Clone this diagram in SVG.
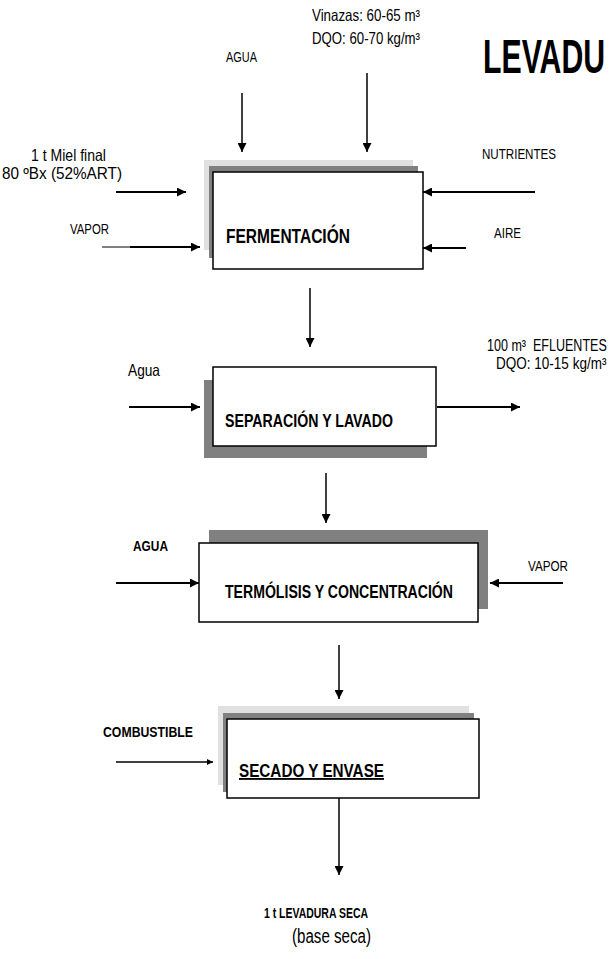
<svg xmlns="http://www.w3.org/2000/svg" width="613" height="959" viewBox="0 0 613 959">
<style>
text{font-family:"Liberation Sans Narrow","Liberation Sans",Arial,sans-serif;fill:#000}
.t{font-size:16.5px}
.s{font-size:14px}
.b{font-weight:bold}
.lbl{font-size:18.5px;font-weight:bold}
.box{fill:#fff;stroke:#000;stroke-width:1.5}
.lg{fill:#e0e0e0}
.dg{fill:#808080}
.ln{stroke:#000;stroke-width:1.5;fill:none}
.lnb{stroke:#000;stroke-width:2;fill:none}
</style>
<defs>
<marker id="ah" viewBox="0 0 10 10" refX="10" refY="5" markerWidth="10" markerHeight="9" markerUnits="userSpaceOnUse" orient="auto"><path d="M0,0 L10,5 L0,10 z" fill="#000"/></marker>
<marker id="ahs" viewBox="0 0 10 10" refX="10" refY="5" markerWidth="6" markerHeight="6" markerUnits="userSpaceOnUse" orient="auto"><path d="M0,0 L10,5 L0,10 z" fill="#000"/></marker>
</defs>

<text transform="translate(483,73) scale(0.63,1)" class="b" style="font-size:48px">LEVADU</text>

<g id="fermentacion">
<rect class="lg" x="204" y="160" width="209" height="90"/>
<rect class="dg" x="209" y="166" width="209" height="92"/>
<rect class="box" x="213" y="172" width="210" height="97"/>
<text x="226" y="243" class="lbl" style="font-size:20px" textLength="124" lengthAdjust="spacingAndGlyphs">FERMENTACIÓN</text>
</g>

<g id="separacion">
<rect class="dg" x="204" y="380" width="223" height="78"/>
<rect class="box" x="213" y="367" width="223" height="79"/>
<text x="225" y="427" class="lbl" textLength="168" lengthAdjust="spacingAndGlyphs">SEPARACIÓN Y LAVADO</text>
</g>

<g id="termolisis">
<rect class="dg" x="209" y="530" width="279" height="79"/>
<rect class="box" x="199" y="543" width="279" height="79"/>
<text x="225" y="598" class="lbl" textLength="228" lengthAdjust="spacingAndGlyphs">TERMÓLISIS Y CONCENTRACIÓN</text>
</g>

<g id="secado">
<rect class="lg" x="218" y="706" width="251" height="79"/>
<rect class="dg" x="223" y="713" width="251" height="79"/>
<rect class="box" x="227" y="719" width="252" height="79"/>
<text x="239" y="777" class="lbl" style="text-decoration:underline" textLength="145" lengthAdjust="spacingAndGlyphs">SECADO Y ENVASE</text>
</g>

<g id="labels">
<text x="312" y="21" class="t" textLength="108" lengthAdjust="spacingAndGlyphs">Vinazas: 60-65 m³</text>
<text x="312" y="44" class="t" textLength="108" lengthAdjust="spacingAndGlyphs">DQO: 60-70 kg/m³</text>
<text x="226" y="62" class="s" textLength="31" lengthAdjust="spacingAndGlyphs">AGUA</text>
<text x="482" y="159" class="s" textLength="74" lengthAdjust="spacingAndGlyphs">NUTRIENTES</text>
<text x="31" y="161" class="t" textLength="75" lengthAdjust="spacingAndGlyphs">1 t Miel final</text>
<text x="2" y="179" class="t" textLength="120" lengthAdjust="spacingAndGlyphs">80 ºBx (52%ART)</text>
<text x="70" y="234" class="s" textLength="39" lengthAdjust="spacingAndGlyphs">VAPOR</text>
<text x="494" y="238" class="s" textLength="27" lengthAdjust="spacingAndGlyphs">AIRE</text>
<text x="128" y="376" class="t" textLength="32" lengthAdjust="spacingAndGlyphs">Agua</text>
<text transform="translate(487,351) scale(0.76,1)" class="t">100 m³&#160; EFLUENTES</text>
<text transform="translate(496,369) scale(0.82,1)" class="t">DQO: 10-15 kg/m³</text>
<text x="133" y="551" class="s b" textLength="35" lengthAdjust="spacingAndGlyphs">AGUA</text>
<text x="528" y="571" class="s" textLength="40" lengthAdjust="spacingAndGlyphs">VAPOR</text>
<text x="103" y="737" class="s b" textLength="90" lengthAdjust="spacingAndGlyphs">COMBUSTIBLE</text>
<text x="264" y="918" class="s b" textLength="104" lengthAdjust="spacingAndGlyphs">1 t LEVADURA SECA</text>
<text x="292" y="943" style="font-size:20px" textLength="79" lengthAdjust="spacingAndGlyphs">(base seca)</text>
</g>

<g id="connectors">
<line class="ln" x1="242" y1="93" x2="242" y2="152" marker-end="url(#ah)"/>
<line class="ln" x1="367" y1="73" x2="367" y2="152" marker-end="url(#ah)"/>
<line class="lnb" x1="116" y1="192" x2="186" y2="192" marker-end="url(#ah)"/>
<line stroke="#000" stroke-width="1" x1="102" y1="247" x2="130" y2="247"/>
<line class="lnb" x1="130" y1="247" x2="200" y2="247" marker-end="url(#ah)"/>
<line class="lnb" x1="535" y1="192" x2="423" y2="192" marker-end="url(#ah)"/>
<line class="lnb" x1="466" y1="248" x2="423" y2="248" marker-end="url(#ah)"/>
<line class="ln" x1="310" y1="288" x2="310" y2="347" marker-end="url(#ah)"/>
<line class="lnb" x1="129" y1="407" x2="200" y2="407" marker-end="url(#ah)"/>
<line class="lnb" x1="437" y1="407" x2="520" y2="407" marker-end="url(#ah)"/>
<line class="ln" x1="326" y1="473" x2="326" y2="523" marker-end="url(#ah)"/>
<line class="lnb" x1="116" y1="583" x2="199" y2="583" marker-end="url(#ah)"/>
<line class="lnb" x1="563" y1="583" x2="490" y2="583" marker-end="url(#ah)"/>
<line class="ln" x1="339" y1="645" x2="339" y2="699" marker-end="url(#ah)"/>
<line class="ln" x1="116" y1="762" x2="213" y2="762" marker-end="url(#ahs)"/>
<line class="ln" x1="339" y1="798" x2="339" y2="875" marker-end="url(#ah)"/>
</g>
</svg>
